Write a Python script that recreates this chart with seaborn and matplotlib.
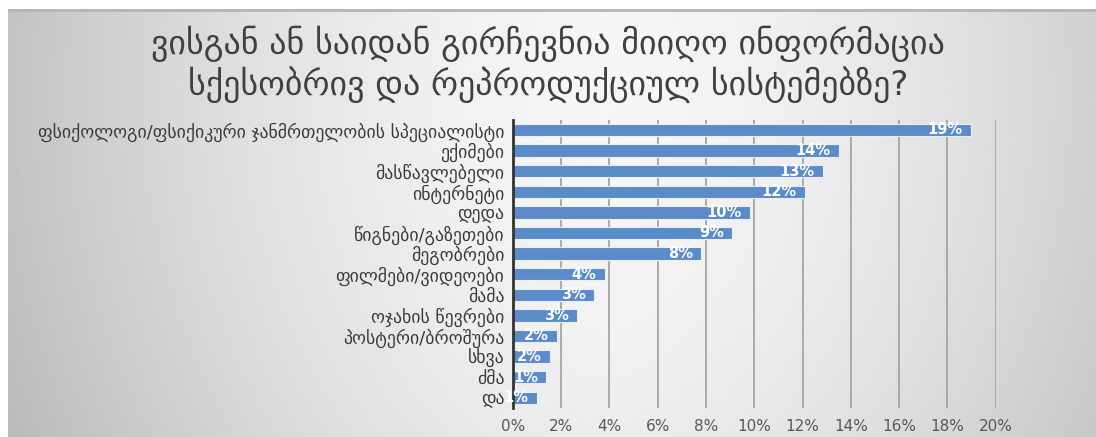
import numpy as np
import pandas as pd
import matplotlib
matplotlib.use("Agg")
import matplotlib.pyplot as plt
import seaborn as sns

# Sources of information on sexual and reproductive health (share of respondents, %)
categories = [
    "ფსიქოლოგი/ფსიქიკური ჯანმრთელობის სპეციალისტი",
    "ექიმები",
    "მასწავლებელი",
    "ინტერნეტი",
    "დედა",
    "წიგნები/გაზეთები",
    "მეგობრები",
    "ფილმები/ვიდეოები",
    "მამა",
    "ოჯახის წევრები",
    "პოსტერი/ბროშურა",
    "სხვა",
    "ძმა",
    "და",
]
shares = [18.97, 13.52, 12.84, 12.10, 9.83, 9.09, 7.80, 3.82, 3.38, 2.66, 1.82, 1.53, 1.39, 0.99]
x_ticks = [0, 2, 4, 6, 8, 10, 12, 14, 16, 18, 20]

title = "ვისგან ან საიდან გირჩევნია მიიღო ინფორმაცია\nსქესობრივ და რეპროდუქციულ სისტემებზე?"

sns.set_style("white")
plt.rcParams["font.family"] = ["DejaVu Sans"]

W, H = 1096, 437
fig = plt.figure(figsize=(W / 100, H / 100), dpi=100)
fig.patch.set_facecolor("white")

# soft grey backdrop, lighter towards the upper middle
bg = fig.add_axes([8 / W, 0, 1 - 8 / W, (H - 9) / H], zorder=0)
gx = np.linspace(0, 1, 400)
gy = np.linspace(0, 1, 200)
GX, GY = np.meshgrid(gx, gy)
shade = 0.965 - 0.17 * np.abs((GX - 0.55) / 0.5) ** 1.6 - 0.04 * ((GY - 0.2) / 0.8) ** 2
shade = np.clip(shade, 0, 1)
bg.imshow(shade, cmap="gray", vmin=0, vmax=1, aspect="auto", extent=[0, 1, 1, 0])
bg.axhline(0.003, color="#b5b5b5", lw=2)
bg.set_axis_off()

df = pd.DataFrame({"source": categories, "share": shares})

ax = fig.add_axes([512.7 / W, 1 - 408 / H, 483 / W, (408 - 119.7) / H], zorder=2)
ax.patch.set_alpha(0)
sns.barplot(data=df, y="source", x="share", orient="h", color="#5b8bc9",
            saturation=1, width=0.6, edgecolor="#e8eef8", linewidth=0.8, ax=ax, zorder=3)

ax.set_xlim(0, 20)
ax.set_xticks(x_ticks)
ax.set_xticklabels([f"{t}%" for t in x_ticks], color="#595959", fontsize=11)
ax.xaxis.grid(True, color="#a5a5a5", linewidth=1.3, zorder=1)
ax.set_axisbelow(True)
ax.set_xlabel("")
ax.set_ylabel("")
ax.tick_params(axis="y", length=0, pad=6, labelsize=12.8, labelcolor="#3a3a3a")
ax.tick_params(axis="x", length=0, pad=8)
for side in ["top", "right", "bottom"]:
    ax.spines[side].set_visible(False)
ax.spines["left"].set_color("#333333")
ax.spines["left"].set_linewidth(2)
ax.spines["left"].set_zorder(4)

for patch, val in zip(ax.patches, shares):
    yc = patch.get_y() + patch.get_height() / 2
    ax.annotate(f"{val:.0f}%", (patch.get_width(), yc), xytext=(-6, 0),
                textcoords="offset points", ha="right", va="center",
                color="white", fontsize=10.5, fontweight="bold", zorder=5)

fig.text(0.5, 1 - 64 / H, title, ha="center", va="center", fontsize=24.5,
         color="#404040", linespacing=1.15)

fig.savefig("out.png", dpi=100)
